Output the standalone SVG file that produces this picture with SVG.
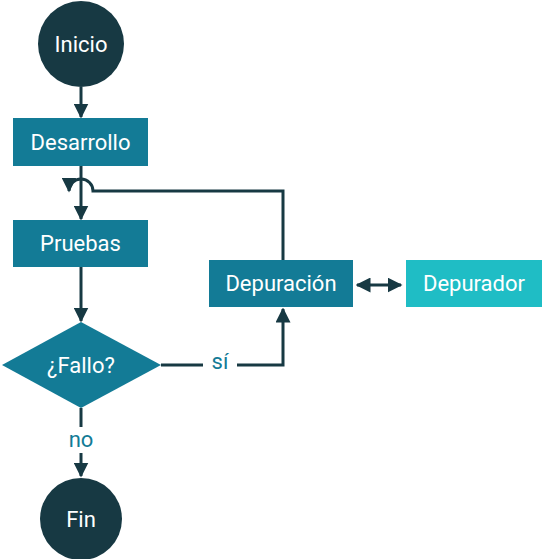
<svg xmlns="http://www.w3.org/2000/svg" width="544" height="559" viewBox="0 0 544 559">
<style>
.dark{fill:#173943}
.box{fill:#137b96}
.lt{fill:#1fbdc5}
.t{font-family:Roboto,"Liberation Sans",sans-serif;font-size:22px;fill:#ffffff;text-anchor:middle;dominant-baseline:central}
.lbl{font-family:Roboto,"Liberation Sans",sans-serif;font-size:22px;fill:#137b96;text-anchor:middle;dominant-baseline:central}
.c{fill:none;stroke:#173943;stroke-width:3}
</style>
<defs>
<marker id="ah" viewBox="0 0 10 10" refX="9" refY="5" markerWidth="5" markerHeight="5" orient="auto-start-reverse" markerUnits="strokeWidth">
<path d="M0,0 L10,5 L0,10 z" fill="#173943"/>
</marker>
</defs>
<rect width="544" height="559" fill="#ffffff"/>
<g id="connectors">
<line class="c" x1="81" y1="87" x2="81" y2="117" marker-end="url(#ah)"/>
<line class="c" x1="81" y1="166" x2="81" y2="219" marker-end="url(#ah)"/>
<line class="c" x1="81" y1="267" x2="81" y2="321" marker-end="url(#ah)"/>
<line class="c" x1="81" y1="408" x2="81" y2="427"/>
<line class="c" x1="81" y1="453" x2="81" y2="476" marker-end="url(#ah)"/>
<path class="c" d="M161,365 H203"/>
<path class="c" d="M237,365 H283 V309" marker-end="url(#ah)"/>
<path class="c" d="M283,260 V191 H93 A12,12 0 0 0 69,191" marker-end="url(#ah)"/>
<line class="c" x1="357" y1="285" x2="401" y2="285" marker-start="url(#ah)" marker-end="url(#ah)"/>
<text class="lbl" x="220" y="361">sí</text>
<text class="lbl" x="81" y="439">no</text>
</g>
<g id="inicio">
<circle class="dark" cx="81" cy="44" r="43"/>
<text class="t" x="81" y="44">Inicio</text>
</g>
<g id="desarrollo">
<rect class="box" x="13" y="118" width="135" height="48"/>
<text class="t" x="80.5" y="142">Desarrollo</text>
</g>
<g id="pruebas">
<rect class="box" x="13" y="220" width="135" height="47"/>
<text class="t" x="80.5" y="243.5">Pruebas</text>
</g>
<g id="fallo">
<polygon class="box" points="81,322 161,365 81,408 2,365"/>
<text class="t" x="81" y="365">¿Fallo?</text>
</g>
<g id="depuracion">
<rect class="box" x="209" y="260" width="144" height="47"/>
<text class="t" x="281" y="283.5">Depuración</text>
</g>
<g id="depurador">
<rect class="lt" x="406" y="260" width="136" height="47"/>
<text class="t" x="474" y="283.5">Depurador</text>
</g>
<g id="fin">
<circle class="dark" cx="81" cy="519" r="41"/>
<text class="t" x="81" y="519">Fin</text>
</g>
</svg>
